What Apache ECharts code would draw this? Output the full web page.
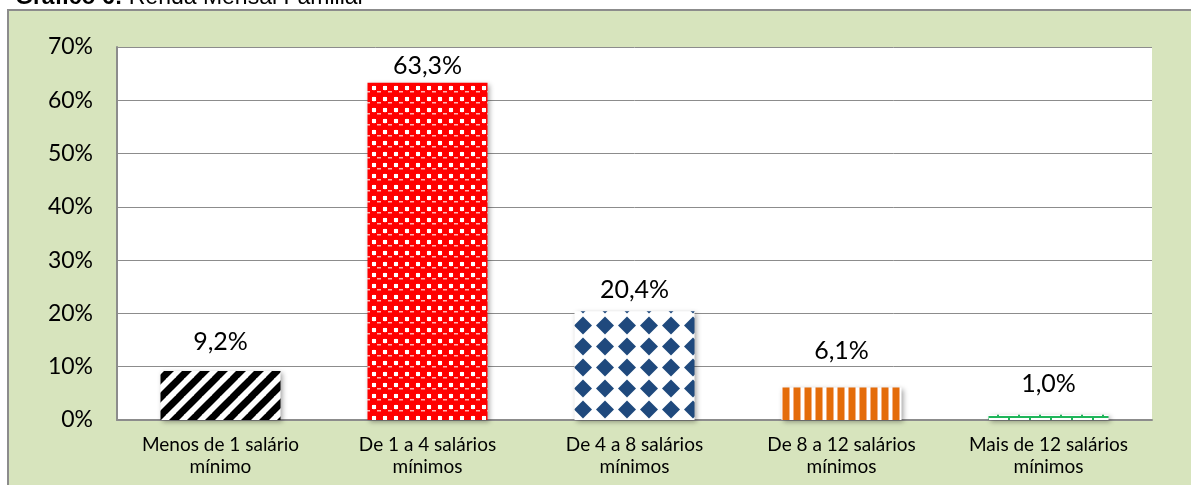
<!DOCTYPE html>
<html>
<head>
<meta charset="utf-8">
<script src="https://cdn.jsdelivr.net/npm/echarts@6/dist/echarts.min.js"></script>
<style>
  html, body { margin: 0; padding: 0; background: #fff; }
  #main { width: 1191px; height: 485px; }
</style>
</head>
<body>
<div id="main"></div>
<script>
// dados do gráfico
var categorias = ['Menos de 1 salário\nmínimo', 'De 1 a 4 salários\nmínimos', 'De 4 a 8 salários\nmínimos', 'De 8 a 12 salários\nmínimos', 'Mais de 12 salários\nmínimos'];
var valores = [9.2, 63.3, 20.4, 6.1, 1.0];
var ticksY = [0, 10, 20, 30, 40, 50, 60, 70];

// espaço entre rótulo e barra (como no Excel)
var labelGaps = [17, 4, 9, 24, 18];

var fonte = 'Lato, "Noto Sans", sans-serif';

function tile(w, h, draw) {
    var c = document.createElement('canvas');
    c.width = w; c.height = h;
    var ctx = c.getContext('2d');
    ctx.fillStyle = '#fff';
    ctx.fillRect(0, 0, w, h);
    draw(ctx, w, h);
    return c;
}

// listras diagonais pretas
var listras = tile(18, 18, function (ctx, w, h) {
    ctx.strokeStyle = '#000';
    ctx.lineWidth = 7;
    for (var k = -1; k <= 1; k++) {
        ctx.beginPath();
        ctx.moveTo(-2 + k * w, h + 2);
        ctx.lineTo(w + 2 + k * w, -2);
        ctx.stroke();
    }
});

// bolinhas vermelhas com quadradinhos brancos
var bolas = tile(11, 11, function (ctx, w, h) {
    ctx.fillStyle = '#ff0000';
    ctx.beginPath();
    ctx.arc(5.5, 5.5, 6.3, 0, Math.PI * 2);
    ctx.fill();
    ctx.fillStyle = '#fff';
    ctx.fillRect(0, 0, 2, 2);
    ctx.fillRect(9, 0, 2, 2);
    ctx.fillRect(0, 9, 2, 2);
    ctx.fillRect(9, 9, 2, 2);
    ctx.fillStyle = 'rgba(255,190,190,0.95)';
    ctx.fillRect(3, 3, 4, 1.5);
});

// losangos azuis
var losangos = tile(22, 21, function (ctx, w, h) {
    ctx.fillStyle = '#1f497d';
    ctx.beginPath();
    ctx.moveTo(11, 1.5);
    ctx.lineTo(20, 10.5);
    ctx.lineTo(11, 19.5);
    ctx.lineTo(2, 10.5);
    ctx.closePath();
    ctx.fill();
});

// listras verticais laranja
var verticais = tile(11, 10, function (ctx, w, h) {
    ctx.fillStyle = '#e46c0a';
    ctx.fillRect(2, 0, 6, h);
    ctx.fillStyle = '#f4b183';
    ctx.fillRect(1, 0, 1, h);
    ctx.fillRect(8, 0, 1, h);
});

// linha verde com marquinhas
var verde = tile(21, 6, function (ctx, w, h) {
    ctx.fillStyle = '#1fb55a';
    ctx.fillRect(0, 2, w, 2);
    ctx.fillRect(10, 0, 2, 2);
    ctx.fillRect(0, 4, 2, 2);
});

var padroes = [listras, bolas, losangos, verticais, verde];

var dados = valores.map(function (v, i) {
    return {
        value: v,
        itemStyle: { color: { image: padroes[i], repeat: 'repeat' } },
        label: { distance: labelGaps[i] }
    };
});

var chart = echarts.init(document.getElementById('main'));

chart.setOption({
    backgroundColor: '#fff',
    animation: false,
    graphic: [
        {
            type: 'rect',
            z: -10,
            shape: { x: 8, y: 10, width: 1200, height: 500 },
            style: { fill: '#d7e4bd', stroke: '#8c8c8c', lineWidth: 2 }
        },
        {
            type: 'rect',
            z: -9,
            shape: { x: 117, y: 47, width: 1035, height: 373 },
            style: { fill: '#fff' }
        },
        {
            type: 'text',
            left: 15,
            top: -14,
            style: {
                text: '{b|Gráfico 6:} Renda Mensal Familiar',
                font: '23px "Liberation Sans", Arial, sans-serif',
                fill: '#000',
                rich: { b: { fontWeight: 'bold', fontSize: 23, fontFamily: '"Liberation Sans", Arial, sans-serif' } }
            }
        }
    ],
    grid: { left: 117, right: 39, top: 47, bottom: 65 },
    xAxis: {
        type: 'category',
        data: categorias,
        axisLine: { show: true, lineStyle: { color: '#8c8c8c', width: 2 } },
        axisTick: { show: false },
        axisLabel: {
            color: '#000',
            fontSize: 19,
            fontFamily: fonte,
            lineHeight: 22,
            margin: 14,
            interval: 0
        }
    },
    yAxis: {
        type: 'value',
        min: ticksY[0],
        max: ticksY[ticksY.length - 1],
        interval: 10,
        axisLine: { show: true, lineStyle: { color: '#8c8c8c', width: 2 } },
        axisTick: { show: false },
        splitLine: { show: true, lineStyle: { color: '#8c8c8c', width: 1 } },
        axisLabel: {
            color: '#000',
            fontSize: 23,
            fontFamily: fonte,
            margin: 24,
            formatter: '{value}%'
        }
    },
    series: [
        {
            type: 'bar',
            data: dados,
            barWidth: 120,
            itemStyle: {
                shadowColor: 'rgba(0,0,0,0.35)',
                shadowBlur: 5,
                shadowOffsetX: 2,
                shadowOffsetY: 2
            },
            label: {
                show: true,
                position: 'top',
                color: '#000',
                fontSize: 25,
                fontFamily: fonte,
                formatter: function (p) {
                    return p.value.toFixed(1).replace('.', ',') + '%';
                }
            }
        }
    ]
});
</script>
</body>
</html>
